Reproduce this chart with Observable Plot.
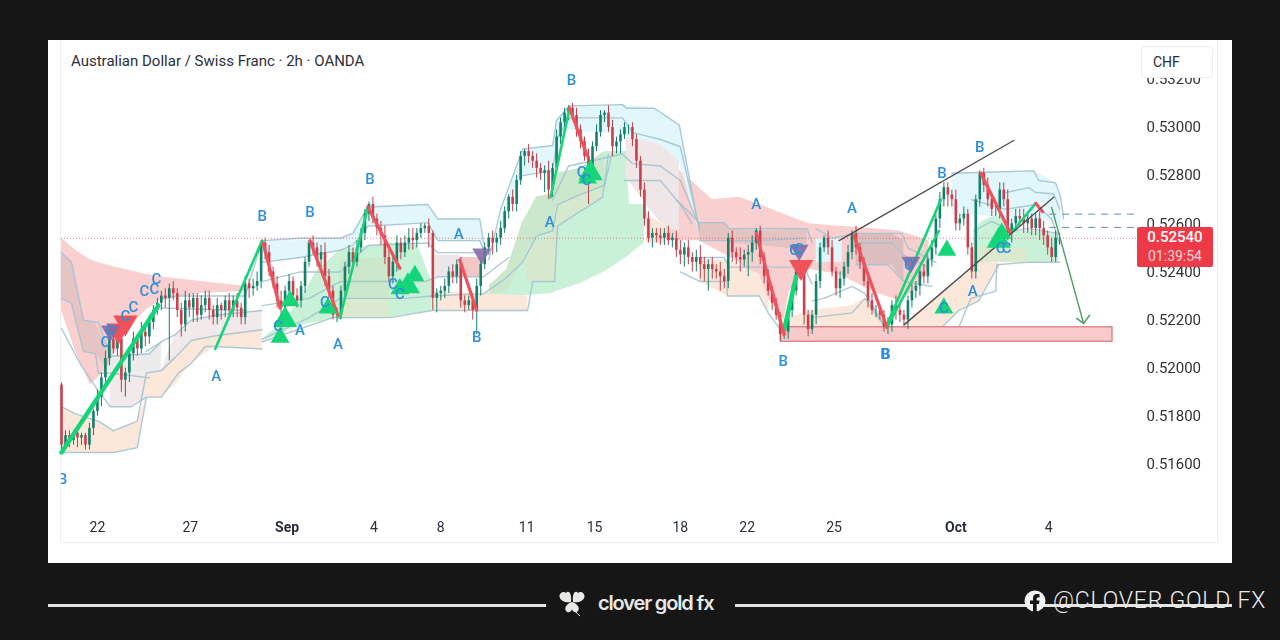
<!DOCTYPE html>
<html><head><meta charset="utf-8">
<script src="https://cdn.jsdelivr.net/npm/d3@7"></script>
<script src="https://cdn.jsdelivr.net/npm/@observablehq/plot@0.6"></script>
<style>
html,body{margin:0;width:1280px;height:640px;overflow:hidden;background:#161616;font-family:Roboto,"Liberation Sans",sans-serif}
#panel{position:absolute;left:48px;top:40px;width:1184px;height:523px;background:#fff;overflow:hidden}
#frame{position:absolute;left:12px;top:-2px;width:1158px;height:505px;border:1px solid #eef0f2;box-sizing:border-box}
#chart{position:absolute;left:0;top:0}
#chart svg{filter:blur(.45px)}
#title{position:absolute;left:23px;top:12px;font-size:15px;color:#2a2e39;background:#fff}
#chf{position:absolute;left:1093px;top:6px;width:72px;height:32px;background:#fff;border:1px solid #eceef1;border-radius:4px;box-sizing:border-box;font-size:14px;color:#2a2e39;line-height:30px;padding-left:11px}
#tag{position:absolute;left:1089px;width:76px;height:40px;background:#ee3a47;color:#fff;border-radius:2px;text-align:center;font-size:15px;line-height:19px;font-weight:500;padding-top:1px;box-sizing:border-box}
#tag span{display:block;font-size:14px;font-weight:400;color:#fbd5d8}
.rule{position:absolute;top:604px;height:3px;background:#e4e4e2}
#brand{position:absolute;left:598px;top:591px;font:600 20px Inter,Roboto,sans-serif;letter-spacing:-1.15px;color:#e8e8e6}
#fb{position:absolute;left:1053px;top:587px;font-size:23px;font-weight:300;letter-spacing:.78px;color:#ececec;white-space:nowrap}
.ico{position:absolute}
</style></head>
<body>
<div id="panel"><div id="frame"></div><div id="chart"></div>
<div id="title">Australian Dollar / Swiss Franc · 2h · OANDA</div>
<div id="chf">CHF</div><div id="tag"></div></div>
<div class="rule" style="left:48px;width:498px"></div>
<div class="rule" style="left:735px;width:497px"></div>
<svg class="ico" style="left:558px;top:589px" width="28" height="28" viewBox="0 0 28 28"><g fill="#e8e8e6"><path d="M13 13C8 14 2 12 1.5 7.5 1.2 3.5 6 1.500 8 4 10 1 14 3 13 13Z"/><path d="M15 13C20 14 26 12 26.500 7.500 26.800 3.500 22 1.500 20 4 18 1 14 3 15 13Z"/><path d="M14 13C8 15 6 19 8 22 10 24.500 13 23 14 20.500 15 23 18 24.500 20 22 22 19 20 15 14 13Z"/></g><path d="M14 14C15 20 18 24 22 27" stroke="#e8e8e6" stroke-width="1" fill="none"/></svg>
<svg class="ico" style="left:1024px;top:590px" width="22" height="24" viewBox="0 0 22 24"><circle cx="11" cy="11" r="10.500" fill="#f2f2f2"/><path d="M9 23V14H6V10.500H9V8C9 5.500 10.500 4 13 4H15.500V7.500H14C13 7.500 12.700 8 12.700 9V10.500H15.500L15 14H12.700V22Z" fill="#161616"/></svg>
<div id="brand">clover gold fx</div>
<div id="fb">@CLOVER GOLD FX</div>
<script>
// Prices are quoted in units of 0.0001 (pips); x is the bar number on a 2h chart.
const closes=[5168,5172,5170,5173,5171,5172,5168,5175,5182,5188,5196,5204,5212,5208,5212,5195,5198,5206,5212,5208,5215,5213,5219,5224,5227,
5230,5229,5233,5231,5224,5218,5228,5225,5229,5222,5226,5229,5224,5221,5226,5224,5228,5224,5228,5225,5221,5235,5233,5234,5236,
5252,5248,5240,5235,5228,5225,5232,5236,5230,5228,5234,5244,5252,5250,5245,5248,5238,5232,5222,5222,5232,5242,5248,5244,5250,
5256,5264,5268,5262,5258,5255,5246,5238,5244,5252,5248,5252,5254,5253,5256,5258,5259,5256,5229,5231,5232,5234,5240,5238,5243,
5228,5226,5228,5224,5234,5243,5250,5254,5252,5254,5258,5265,5271,5268,5278,5288,5290,5288,5286,5283,5281,5282,5274,5283,5296,
5302,5306,5308,5305,5299,5294,5288,5284,5292,5298,5305,5306,5300,5292,5294,5297,5300,5300,5295,5286,5274,5262,5254,5256,5255,
5254,5256,5253,5254,5249,5247,5250,5246,5244,5246,5243,5241,5243,5241,5240,5238,5236,5254,5248,5246,5245,5247,5248,5252,5257,
5246,5238,5232,5227,5222,5214,5215,5224,5232,5240,5240,5222,5216,5222,5236,5250,5254,5250,5240,5233,5237,5242,5248,5256,5250,
5244,5236,5228,5224,5224,5222,5217,5218,5226,5224,5222,5220,5228,5232,5234,5240,5238,5245,5250,5262,5270,5275,5272,5270,5260,
5262,5264,5250,5240,5270,5281,5276,5270,5266,5266,5274,5270,5256,5260,5263,5262,5260,5262,5258,5262,5258,5255,5250,5246,5254,5254];
const wickUp=[1,2,2,1,2,1,1,2,1,3,2,3,4,3,5,3,2,2,3,2,4,2,3,2,2,
2,3,2,3,2,3,4,3,2,2,4,3,3,2,3,1,2,3,2,3,2,3,2,3,4,
1,2,3,2,3,4,2,3,2,3,2,2,1,3,2,3,4,3,2,3,2,2,3,2,3,
2,2,1,3,2,3,4,3,2,3,2,3,4,4,2,2,1,3,1,2,2,3,2,3,2,
3,2,2,2,3,2,2,2,3,2,3,2,1,3,2,2,1,3,2,3,2,2,4,2,3,
2,2,1,2,3,2,2,3,2,3,2,1,3,3,2,2,2,1,2,2,2,3,3,2,2,
3,2,3,2,3,4,2,3,2,3,5,3,2,3,2,4,3,2,3,2,4,2,3,3,1,
2,2,3,2,2,1,3,2,2,2,2,3,2,2,3,2,1,3,3,2,3,2,3,1,3,
2,2,3,3,2,2,2,3,2,4,3,2,2,3,2,2,3,2,3,2,3,2,2,2,4,
2,3,2,2,2,1,2,3,2,2,3,3,4,2,3,3,4,3,2,2,3,3,2,4,3,2];
const wickDown=[3,2,3,2,4,3,2,2,3,2,4,3,3,2,3,5,7,4,3,3,2,4,3,3,2,
3,4,26,3,3,5,3,4,6,3,2,3,4,3,3,4,3,3,3,4,3,3,4,3,2,
3,3,2,2,3,4,3,3,4,3,3,3,2,3,3,3,4,3,2,3,2,3,3,2,2,
2,3,3,2,3,4,3,2,3,4,3,2,3,4,3,2,2,6,5,6,3,3,3,3,3,
3,3,2,4,10,4,2,3,5,4,3,2,3,3,3,2,4,3,3,4,3,8,4,3,2,
3,2,3,2,3,3,2,16,3,2,2,3,2,4,3,5,2,3,3,3,3,3,2,4,3,
3,3,2,3,3,4,5,3,4,4,6,5,9,4,3,6,3,3,4,3,5,3,9,4,3,
3,3,2,3,2,3,2,3,3,2,3,4,3,2,4,3,2,3,2,3,4,3,3,3,3,
3,2,3,2,3,2,2,3,3,4,3,2,4,3,3,4,3,3,3,3,4,3,5,3,3,
3,3,3,3,3,3,3,3,3,3,4,3,3,4,3,3,4,4,3,3,5,4,3,2,2,3];

// filled indicator bands: [bar, upper, lower]
const redCloudA=[[0,5254,5224],[3.5,5249,5207],[7.25,5245,5193],[11,5243,5199],[16,5241,5214],[21,5239,5224],[24.75,5238,5228],[34.75,5236,5231],[46,5234,5232]];
const redCloudB=[[151.5,5287,5253],[159.75,5275,5253],[163,5270,5250],[169.75,5271,5244],[174.75,5268,5234],[181,5264,5220],[182.25,5263,5232],[187.25,5260,5241],[194.75,5259,5239],[203,5258,5232],[209.75,5257,5228],[213.5,5255,5232],[217.25,5253,5241]];
const redPocket=[[99.75,5246,5238],[105.5,5246,5238]];
const greenCloudA=[[50.25,5212,5211.5],[54.75,5218,5214],[59.75,5228,5218],[63.75,5240,5219],[69.75,5249,5221],[82.25,5252,5221],[89.25,5251,5223],[92.75,5236,5224]];
const greenCloudB=[[92.75,5228,5224],[106.5,5231,5229],[111.5,5235,5230],[115.5,5257,5230],[119,5271,5230.5],[123,5272.5,5231],[124,5281,5232],[129.75,5283,5235],[136.5,5290,5240.5],[141.5,5290,5246],[142.25,5268,5247],[146,5268,5252]];
const greenCloudD=[[228.5,5257,5243],[230.5,5261,5244],[234.75,5264,5249],[237.75,5257,5253],[238.25,5257,5246],[242.25,5257,5244],[249.75,5256,5244]];
const greenDarkA=[[69.75,5245,5229],[82.25,5246,5229]];
const greenDarkB=[[107.25,5234.5,5230],[111.5,5241,5232],[115.5,5260.5,5244],[119,5271,5255],[123,5272.5,5257],[124,5281,5268],[129.75,5283,5272],[136,5290,5276]];
const tanA=[[69.75,5229,5221],[82.25,5229,5221]];
const tanB=[[116.5,5250,5235.5],[123.5,5256,5236],[124.25,5268,5259],[129.75,5272,5265],[135.5,5276,5271]];
const tanD=[[228.5,5250,5243],[234.75,5250,5244],[241.5,5250,5243.5]];
const blueA=[[50.25,5253,5244],[59.75,5253,5246],[69.75,5254,5249],[73,5256,5251],[76.75,5267,5259],[91.75,5268,5260.5],[94.25,5262,5253],[104.75,5262,5253],[105.75,5252,5249]];
const blueB=[[109.75,5259,5255],[111.5,5270,5263.5],[115.5,5291,5280],[123,5292.5,5282],[124,5303,5292.5],[127.25,5309,5299],[140.5,5309.5,5297],[148.5,5308,5292.5],[154.75,5301,5286],[159.75,5257,5256]];
const blueC=[[189,5254,5244],[195.5,5254,5244]];
const blueD=[[223,5281,5264],[243.5,5282,5262],[249,5277,5260],[250.25,5271,5256]];
const greyA=[[141.5,5296,5279],[149.75,5293,5261],[154.75,5286,5256]];
const greyB=[[159.75,5260.5,5253],[166,5260.5,5253],[167.25,5258,5252],[174.75,5257,5251],[186.75,5258,5249]];
const greyC=[[199,5256,5243],[208,5256,5243],[211,5253,5236]];
const greyD=[[93,5247,5238],[99.75,5247,5238]];
const greyE=[[0,5248,5229],[2.5,5244,5227],[5.5,5220,5207],[8.5,5219,5206],[12.25,5205,5198],[22,5206,5198],[25,5211,5199]];
const paleF=[[12.25,5198,5184],[17.5,5198,5184],[21.25,5198,5188],[25,5199,5188],[28.5,5214,5204.5],[32.5,5220,5211.5],[38.5,5222,5213.5],[50.25,5224,5216]];
const orangeI=[[0,5184,5165],[3.5,5181,5165],[9.25,5178,5165],[13,5174,5165],[19,5178,5167],[21.25,5188,5188]];
const orangeJ=[[21.25,5198,5188],[25,5199,5188],[28.5,5204.5,5193],[32.5,5211.5,5202],[38.5,5213.5,5209],[50.25,5216,5208]];
const orangeK=[[92.75,5232,5224],[116.75,5230,5224]];
const orangeC=[[182.25,5221,5217],[188,5224,5217],[198,5226,5217],[201.25,5229,5217],[206.25,5219,5217]];
const orangeD=[[211,5218,5217],[220.5,5231,5217],[224.75,5236,5224],[229.75,5244,5228],[234.75,5244,5243]];
const orangeG=[[159.75,5245,5236],[166.75,5245,5230],[174.75,5239,5230],[177.25,5228,5223]];
const orangeH=[[146.5,5264,5252],[151.5,5259,5252]];

// stepped indicator lines: [bar, price]
const bandLines=[
[[0,5248],[2.5,5244],[5.5,5220],[9.25,5219],[12.25,5205],[22,5206],[25,5211]],
[[0,5229],[2.5,5227],[5.5,5207],[8.5,5206],[9.25,5198],[12.25,5198],[22,5196]],
[[0,5216.5],[5,5201],[9.25,5190.5],[12.25,5184],[17.5,5184],[21.25,5188],[25,5188],[29.25,5198],[32.5,5202],[36,5209],[38.5,5209],[50.25,5208]],
[[0,5184],[3.5,5181],[9.25,5178],[13,5174],[19,5178],[21.25,5198],[25,5199],[28.5,5204.5],[32.5,5211.5],[38.5,5213.5],[50.25,5216]],
[[0,5165],[13,5165],[19,5167],[21.25,5188]],
[[21.25,5207],[25,5211],[28.5,5214],[32.5,5220],[38.5,5222],[50.25,5224]],
[[25,5229],[29.25,5230],[46,5230],[50.25,5253]],
[[25,5225],[46,5224]],
[[50.25,5253],[59.75,5254],[69.75,5254],[73,5256],[76.75,5267],[91.75,5268],[94.25,5262],[104.75,5262],[105.75,5252]],
[[50.25,5244],[59.75,5246],[69.75,5249],[73,5251],[76.75,5259],[91.75,5260.5],[94.25,5253],[104.75,5253],[105.75,5249]],
[[50.25,5236],[59.75,5240],[69.75,5240],[76.75,5251],[91.75,5252],[94.25,5248],[104.75,5248]],
[[50.25,5226],[62,5229],[69.75,5236],[91,5236],[94.25,5238],[105.75,5238],[112,5246]],
[[50.25,5212],[62,5221],[69.75,5229],[86,5229],[92.75,5230],[105.75,5231],[111,5237],[115.5,5244],[119,5255],[123,5257],[124.25,5268],[129.75,5272],[136,5276],[138,5290]],
[[50.25,5211],[68,5221],[82.25,5221],[92.75,5224],[116.75,5224],[118,5236],[123.5,5236],[124.25,5259],[129.75,5265],[135.5,5271],[137,5289]],
[[107,5245],[110,5266],[115.5,5291],[123,5292.5],[124,5303],[127.25,5309],[140.5,5309.5],[141.5,5308],[148.5,5308],[154.75,5301],[159.75,5257]],
[[115.5,5280],[123,5282],[124.25,5296],[127.25,5304],[140.5,5304],[143,5298],[150,5295],[155,5292],[159.75,5258]],
[[123,5270],[127,5284],[140.5,5289],[143,5285],[150,5284],[155,5278],[159.75,5259]],
[[141,5278],[150,5278],[155,5268],[158,5260]],
[[154,5270],[159.75,5260.5],[166,5260.5],[167.25,5258],[186.75,5258],[188,5252]],
[[159.75,5253],[174,5253],[186,5254]],
[[159.75,5246],[166,5246],[167.25,5242],[186,5242],[188,5235]],
[[155,5240],[160,5236],[166.75,5236],[166.75,5230],[174.75,5230],[177,5223],[181,5214]],
[[189,5258],[193,5254],[199,5256],[210.5,5256],[212,5250],[219,5244]],
[[199,5252],[208,5252],[211,5247],[217,5242]],
[[199,5243],[207,5243],[211,5236],[218,5234]],
[[188,5228],[191,5229],[198,5234],[201.25,5231],[206,5218]],
[[188,5221],[198,5223],[201.25,5229],[206.25,5217]],
[[223,5281],[243.5,5282],[244.75,5278],[249,5277],[250.25,5271],[251,5262]],
[[236.5,5273],[242.25,5275],[244,5273],[248.5,5272.5],[250,5266]],
[[228,5270],[236.5,5266],[244,5268],[248,5262],[250,5252]],
[[228.5,5257],[233,5261],[238,5257],[242,5258],[250,5256]],
[[224.75,5217],[227.75,5229],[234,5232],[234.25,5243],[242,5244],[250,5244]],
[[210,5217],[220.5,5217],[224.75,5224],[229.75,5228],[234.75,5243]]
];
// wave legs
const upWavesThick=[[[0,5165],[24.25,5226]],[[181,5216],[184,5238]]];
const upWaves=[[[38.5,5208],[50.25,5253]],[[69.75,5221],[76.75,5267]],[[122.5,5271],[127.25,5308]],[[206.5,5217],[220.25,5270]],[[206.75,5217],[219.75,5257]],[[237.75,5256],[244,5268.5]]];
const downWaves=[[[50.5,5252],[54.75,5225]],[[62.25,5253],[69.25,5222]],[[76.75,5267],[84.75,5241.5]],[[99.75,5245],[104,5224]],[[127.25,5308],[131.75,5288]],[[174,5256],[181,5214]],[[198.5,5255],[206.75,5217]],[[230.25,5281],[237.75,5256]],[[244,5268.5],[245.75,5265]]];
const trendLines=[[[194.75,5253],[238.5,5294.6]],[[211,5218],[248.5,5271]]];
const arrowPath=[[248,5266.8],[256,5218.6]];
const arrowHead=[[254.25,5220.7],[256,5218.6],[257.5,5222]];
const supportZone=[{b1:180.25,b2:263.25,p1:5211,p2:5217}];
const dashLevels=[5264,5258.5];
const lastPrice=5254;

// pattern labels: [bar, price]
const labelsA=[[38.75,5196.6],[69.25,5210],[59.75,5216],[99.5,5255.5],[122.25,5260.5],[174,5268],[198,5266.4],[228.25,5232]];
const labelsB=[[127.75,5319.5],[50.25,5263],[62.25,5264.7],[77.25,5278.4],[104,5212.8],[180.75,5202.8],[206.25,5206],[206.5,5206],[220.5,5281],[230,5292],[0.25,5153.8]];
const labelsC=[[11,5211],[12.25,5215.7],[16,5221.5],[18,5225.2],[20.75,5232],[23.25,5233],[23.75,5237],[54.25,5217.3],[66,5227.3],[83,5234.8],[84.75,5230.6],[130.25,5281.3],[131.5,5278],[183.5,5249],[184.75,5249.3],[212.25,5242.7],[235.25,5250],[236.75,5249.7],[221,5225]];
const greenBig=[[56,5220],[86.75,5234],[132.5,5281],[234.75,5253]];
const greenMid=[[54.75,5212.8],[57.25,5228],[66.75,5225],[84.75,5233],[88.5,5238.5],[131.75,5279],[221.75,5249],[221,5225],[235.5,5256]];
const redBig=[[14.25,5215.7],[16,5219],[185.25,5242]];
const purpleMid=[[12.25,5215.5],[105.25,5247.5],[184.75,5249],[212.75,5244]];

const tickBars=[9,32.25,56.5,78.25,95,116.5,133.5,155,171.75,193.5,224,247.25];
const tickNames=["22","27","Sep","4","8","11","15","18","22","25","Oct","4"];
const priceTicks=[0.516,0.518,0.52,0.522,0.524,0.526,0.528,0.53,0.532];

const P=v=>v/1e4;
const candles=closes.map((c,i)=>{const o=i?closes[i-1]:5193;return {i,o:P(o),c:P(c),h:P(Math.max(o,c)+(wickUp[i]??1)),l:P(Math.min(o,c)-(wickDown[i]??1)),up:c>=o}});
const band=(rows,fill,fillOpacity=1)=>Plot.areaY(rows,{x:d=>d[0],y1:d=>P(d[2]),y2:d=>P(d[1]),fill,fillOpacity});
const polys=(list,opts)=>Plot.line(list.flatMap((l,k)=>l.map(d=>({b:d[0],p:P(d[1]),k}))),{x:"b",y:"p",z:"k",...opts});
const pts=rows=>rows.map(d=>({b:d[0],p:P(d[1])}));
const tri=(rows,fill,r,extra={})=>Plot.dot(pts(rows),{x:"b",y:"p",symbol:"triangle",r,fill,stroke:"none",...extra});
const letter=(rows,t)=>Plot.text(pts(rows),{x:"b",y:"p",text:()=>t,fill:"#2f8fda",fontSize:15,fontWeight:500,clip:true});
const isMonth=b=>/[A-Z]/.test(tickNames[tickBars.indexOf(b)]);
const xAxis=(bars,fontWeight)=>Plot.axisX(bars,{anchor:"bottom",tickSize:0,tickPadding:10,fontSize:14,label:null,color:"#2a2e39",fontWeight,tickFormat:b=>tickNames[tickBars.indexOf(b)]});

const G="#14d678",R="#f0525c";
const chart=Plot.plot({
  width:1184,height:523,marginLeft:13,marginRight:93,marginTop:2,marginBottom:51,
  style:{background:"transparent",fontFamily:"Roboto,'Liberation Sans',sans-serif"},
  x:{domain:[0,270],axis:null},
  y:{domain:[0.514006,0.533531],axis:null},
  marks:[
    band(redCloudA,"#f9cfcf"),band(redCloudB,"#f9cfcf"),band(redPocket,"#f3c6c6"),
    band(greenCloudA,"#c9f1d8"),band(greenCloudB,"#c9f1d8"),band(greenCloudD,"#c9f1d8"),
    band(greenDarkA,"#cce8cc"),band(greenDarkB,"#cce8cc"),
    band(tanA,"#dbe9cf"),band(tanB,"#d6e9cf"),band(tanD,"#dbe9cf"),
    band(blueA,"#e2f7fb"),band(blueB,"#e2f7fb"),band(blueC,"#e2f7fb"),band(blueD,"#e2f7fb"),
    band(greyA,"#efe6e8"),band(greyB,"#9a9a9a",.22),band(greyC,"#8c8c8c",.25),band(greyD,"#ece6e8"),band(greyE,"#9a9a9a",.2),band(paleF,"#f1e9ea"),
    band(orangeI,"#fbe8da"),band(orangeJ,"#fbe8da"),band(orangeK,"#fbe8da"),band(orangeC,"#fbe8da"),band(orangeD,"#fbe8da"),band(orangeG,"#fbe8da"),band(orangeH,"#fbe8da"),
    polys(bandLines,{stroke:"#a3c3d0",strokeWidth:1.4,strokeOpacity:.9}),
    Plot.rect(supportZone,{x1:"b1",x2:"b2",y1:d=>P(d.p1),y2:d=>P(d.p2),fill:"#f8caca",stroke:"#d9737b",strokeWidth:1.2}),
    Plot.ruleY([P(lastPrice)],{x1:0,x2:270,stroke:"#e8505b",strokeWidth:1,strokeDasharray:"1 2",strokeOpacity:.75}),
    Plot.ruleX(candles,{x:"i",y1:"l",y2:"h",stroke:d=>d.up?"#12806a":"#bf3f4b",strokeWidth:1}),
    Plot.ruleX(candles,{x:"i",y1:"o",y2:"c",stroke:d=>d.up?"#12806a":"#c9404c",strokeWidth:2.6}),
    polys(upWavesThick,{stroke:G,strokeWidth:4.5}),
    polys(upWaves,{stroke:G,strokeWidth:2.6}),
    polys(downWaves,{stroke:R,strokeWidth:3.2}),
    polys(trendLines,{stroke:"#4e4c50",strokeWidth:1.4}),
    Plot.ruleY(dashLevels.map(P),{x1:247.5,x2:268.75,stroke:"#5f93ad",strokeWidth:1,strokeDasharray:"7 6"}),
    polys([arrowPath,arrowHead],{stroke:"#4f9d62",strokeWidth:1.4}),
    tri(redBig,R,9,{rotate:180}),
    tri(purpleMid,"#7d6aa6",7,{rotate:180,fillOpacity:.88}),
    tri(greenMid,G,7),tri(greenBig,G,9),
    letter(labelsA,"A"),letter(labelsB,"B"),letter(labelsC,"C"),
    Plot.axisY(priceTicks,{anchor:"right",tickSize:0,tickPadding:7,fontSize:15,tickFormat:d3.format(".5f"),color:"#333",label:null}),
    xAxis(tickBars.filter(b=>!isMonth(b)),400),
    xAxis(tickBars.filter(isMonth),700)
  ]
});
document.getElementById("chart").append(chart);
const tag=document.getElementById("tag");
tag.style.top=(chart.scale("y").apply(P(lastPrice))-11)+"px";
tag.innerHTML=(P(lastPrice)).toFixed(5)+"<span>01:39:54</span>";
</script>
</body></html>
